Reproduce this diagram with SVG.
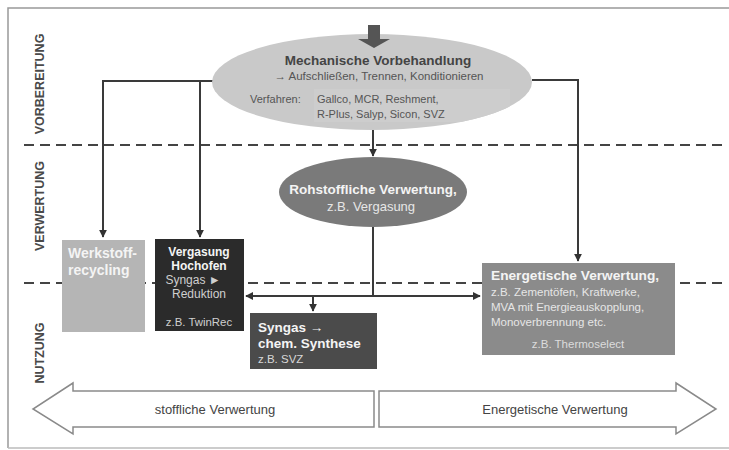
<svg xmlns="http://www.w3.org/2000/svg" width="729" height="450" viewBox="0 0 729 450">
<defs>
<style>
text{font-family:"Liberation Sans",Arial,sans-serif}
.lbl{font-size:12.5px;font-weight:bold;fill:#4a4a4a}
.conn{fill:none;stroke:#3a3a3a;stroke-width:2}
.dash{stroke:#444;stroke-width:2.2;stroke-dasharray:10 6;fill:none}
.wb{font-weight:bold;fill:#f4f4f4}
.wn{fill:#e6e6e6}
.big{fill:#fff;stroke:#8a8a8a;stroke-width:1.5}
</style>
<marker id="ah" viewBox="0 0 10 10" refX="9" refY="5" markerWidth="4" markerHeight="4" orient="auto-start-reverse">
<path d="M0,0 L10,5 L0,10 z" fill="#333"/>
</marker>
<clipPath id="ellclip"><ellipse cx="372" cy="82" rx="160" ry="48"/></clipPath>
</defs>
<rect x="0" y="0" width="729" height="450" fill="#fff"/>
<path d="M8,448 V8 H729" fill="none" stroke="#999" stroke-width="1.5"/>
<path d="M8,448 H729" fill="none" stroke="#bbb" stroke-width="1.5"/>

<g id="phase-labels">
<text class="lbl" transform="translate(44,84) rotate(-90)" text-anchor="middle">VORBEREITUNG</text>
<text class="lbl" transform="translate(44,206) rotate(-90)" text-anchor="middle">VERWERTUNG</text>
<text class="lbl" transform="translate(44,353) rotate(-90)" text-anchor="middle">NUTZUNG</text>
</g>

<g id="separators">
<line class="dash" x1="24" y1="145" x2="722" y2="145"/>
<line class="dash" x1="24" y1="283" x2="722" y2="283"/>
</g>

<g id="connectors">
<path class="conn" d="M214,81 H103 V237" marker-end="url(#ah)"/>
<path class="conn" d="M200,81 V237" marker-end="url(#ah)"/>
<path class="conn" d="M532,80 H578 V261" marker-end="url(#ah)"/>
<path class="conn" d="M373,129 V156" marker-end="url(#ah)"/>
<path class="conn" d="M373,226 V296"/>
<path class="conn" d="M373,296 H246" marker-end="url(#ah)"/>
<path class="conn" d="M373,296 H480" marker-end="url(#ah)"/>
<path class="conn" d="M313,296 V311" marker-end="url(#ah)"/>
</g>

<g id="mechanische-vorbehandlung">
<ellipse cx="372" cy="82" rx="160" ry="48" fill="#c9c9c9"/>
<rect x="314" y="89" width="196" height="33" fill="#cdcdcd" clip-path="url(#ellclip)"/>
<text x="378" y="65" text-anchor="middle" font-size="13.5" font-weight="bold" fill="#444">Mechanische Vorbehandlung</text>
<text x="379" y="80" text-anchor="middle" font-size="11.5" fill="#555">→ Aufschließen, Trennen, Konditionieren</text>
<text x="250" y="103" font-size="11" fill="#555">Verfahren:</text>
<text x="317" y="103" font-size="11" fill="#555">Gallco, MCR, Reshment,</text>
<text x="317" y="118" font-size="11" fill="#555">R-Plus, Salyp, Sicon, SVZ</text>
</g>

<g id="input-arrow">
<path d="M368,25 H380 V39 H390 L374,48 L358,39 H368 Z" fill="#555"/>
</g>

<g id="rohstoffliche-verwertung">
<ellipse cx="373" cy="192" rx="94" ry="35" fill="#7a7a7a"/>
<text x="373" y="194" text-anchor="middle" font-size="13.5" class="wb">Rohstoffliche Verwertung,</text>
<text x="371" y="211" text-anchor="middle" font-size="13" class="wn">z.B. Vergasung</text>
</g>

<g id="werkstoffrecycling">
<rect x="62" y="240" width="83" height="92" fill="#b5b5b5"/>
<text x="68" y="258" font-size="14" class="wb">Werkstoff-</text>
<text x="68" y="275" font-size="14" class="wb">recycling</text>
</g>

<g id="vergasung-hochofen">
<rect x="155" y="239" width="89" height="92" fill="#2b2b2b"/>
<text x="199" y="256" text-anchor="middle" font-size="12" class="wb">Vergasung</text>
<text x="199" y="270" text-anchor="middle" font-size="12" class="wb">Hochofen</text>
<text x="193" y="284" text-anchor="middle" font-size="12" fill="#cfcfcf">Syngas ►</text>
<text x="199" y="298" text-anchor="middle" font-size="12" fill="#cfcfcf">Reduktion</text>
<text x="199" y="326" text-anchor="middle" font-size="11.4" fill="#cfcfcf">z.B. TwinRec</text>
</g>

<g id="syngas-synthese">
<rect x="250" y="313" width="127" height="56" fill="#4b4b4b"/>
<text x="258" y="332" font-size="13.5" class="wb">Syngas →</text>
<text x="258" y="348" font-size="13.5" class="wb">chem. Synthese</text>
<text x="258" y="363" font-size="11.5" fill="#d8d8d8">z.B. SVZ</text>
</g>

<g id="energetische-verwertung">
<rect x="482" y="263" width="193" height="92" fill="#8b8b8b"/>
<text x="491" y="280" font-size="13.7" class="wb">Energetische Verwertung,</text>
<text x="491" y="296" font-size="11.5" class="wn">z.B. Zementöfen, Kraftwerke,</text>
<text x="491" y="311" font-size="11.5" class="wn">MVA mit Energieauskopplung,</text>
<text x="491" y="326" font-size="11.5" class="wn">Monoverbrennung etc.</text>
<text x="578" y="348" text-anchor="middle" font-size="11.5" fill="#dcdcdc">z.B. Thermoselect</text>
</g>

<g id="stoffliche-arrow">
<path class="big" d="M374,391 H73 V383 L33,409 L73,434 V427 H374 Z"/>
<text x="215" y="414" text-anchor="middle" font-size="13" fill="#444">stoffliche Verwertung</text>
</g>

<g id="energetische-arrow">
<path class="big" d="M379,391 H676 V383 L716,409 L676,434 V427 H379 Z"/>
<text x="555" y="414" text-anchor="middle" font-size="13" fill="#444">Energetische Verwertung</text>
</g>
</svg>
